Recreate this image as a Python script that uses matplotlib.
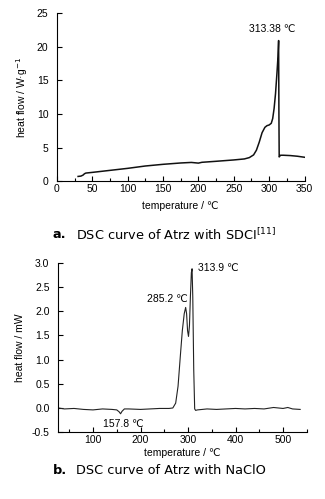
import matplotlib
matplotlib.use("Agg")
import matplotlib.pyplot as plt
from matplotlib.ticker import MultipleLocator, FormatStrFormatter

plt.rcParams["font.family"] = ["Liberation Sans", "DejaVu Sans"]
plt.rcParams["axes.unicode_minus"] = False
plt.rcParams["mathtext.fontset"] = "custom"
plt.rcParams["mathtext.rm"] = "DejaVu Sans"
plt.rcParams["mathtext.it"] = "DejaVu Sans"

# (a) DSC of Atrz with SDCI, heat flow W/g
temp_a = [30, 34, 37, 39, 41, 50, 75, 100, 125, 150, 175, 190, 200, 205, 225, 250,
          265, 272, 278, 282, 286, 290, 294, 297, 300, 303, 305, 307, 309, 311,
          312.5, 313.38, 313.8, 314.2, 316, 320, 330, 340, 350]
flow_a = [0.7, 0.75, 0.9, 1.1, 1.2, 1.3, 1.6, 1.9, 2.25, 2.5, 2.7, 2.78, 2.68, 2.8, 2.95,
          3.15, 3.3, 3.5, 3.9, 4.6, 5.8, 7.2, 8.0, 8.25, 8.35, 8.6, 9.3, 10.8, 13.0, 16.0,
          18.5, 20.9, 10.0, 3.6, 3.85, 3.85, 3.8, 3.7, 3.55]

# (b) DSC of Atrz with NaClO, heat flow mW
temp_b = [27, 40, 60, 80, 100, 120, 140, 150, 155, 158, 161, 166, 175, 200, 220, 240,
          260, 268, 274, 279, 284, 288, 292, 295, 297, 299, 301, 303, 305, 307, 308.5,
          310, 312, 314, 316, 320, 340, 360, 380, 400, 420, 440, 460, 480, 500, 510,
          520, 536]
flow_b = [0.0, -0.02, -0.01, -0.03, -0.04, -0.02, -0.03, -0.04, -0.08, -0.12, -0.07,
          -0.02, -0.02, -0.03, -0.02, -0.01, -0.01, 0.0, 0.1, 0.45, 1.1, 1.6, 1.95, 2.08,
          1.95, 1.6, 1.48, 1.7, 2.3, 2.8, 2.88, 2.3, 0.8, -0.02, -0.05, -0.04, -0.02, -0.03,
          -0.02, -0.01, -0.02, -0.01, -0.02, 0.01, -0.01, 0.01, -0.02, -0.03]

fig = plt.figure(figsize=(3.25, 4.99), dpi=100)

ax1 = fig.add_axes([0.175, 0.637, 0.762, 0.337])
ax1.plot(temp_a, flow_a, color="#111111", lw=1.1)
ax1.set_xlim(0, 350)
ax1.set_ylim(0, 25)
ax1.xaxis.set_major_locator(MultipleLocator(50))
ax1.xaxis.set_minor_locator(MultipleLocator(25))
ax1.yaxis.set_major_locator(MultipleLocator(5))
ax1.set_xlabel("temperature / ℃", fontsize=7.5, labelpad=5)
ax1.set_ylabel("heat flow / W·g$^{-1}$", fontsize=7.5, labelpad=5)
ax1.text(304, 22.6, "313.38 ℃", fontsize=7.5, ha="center", va="center")

ax2 = fig.add_axes([0.178, 0.134, 0.766, 0.339])
ax2.plot(temp_b, flow_b, color="#222222", lw=0.8)
ax2.set_xlim(26, 550)
ax2.set_ylim(-0.5, 3.0)
ax2.xaxis.set_major_locator(MultipleLocator(100))
ax2.xaxis.set_minor_locator(MultipleLocator(50))
ax2.yaxis.set_major_locator(MultipleLocator(0.5))
ax2.yaxis.set_major_formatter(FormatStrFormatter("%.1f"))
ax2.set_xlabel("temperature / ℃", fontsize=7.5, labelpad=2)
ax2.set_ylabel("heat flow / mW", fontsize=7.5, labelpad=5)
ax2.text(322, 2.9, "313.9 ℃", fontsize=7.5, ha="left", va="center")
ax2.text(256, 2.25, "285.2 ℃", fontsize=7.5, ha="center", va="center")
ax2.text(164, -0.33, "157.8 ℃", fontsize=7.5, ha="center", va="center")

for ax in (ax1, ax2):
    ax.spines["top"].set_visible(False)
    ax.spines["right"].set_visible(False)
    ax.tick_params(which="both", direction="in", labelsize=7.5, width=0.8)
    ax.tick_params(which="major", length=3.5)
    ax.tick_params(which="minor", length=2)
    ax.tick_params(axis="x", pad=2)
    ax.tick_params(axis="y", pad=6)

# captions
fig.text(0.163, 1 - 235 / 499, "a.", fontsize=9.3, fontweight="bold", family="DejaVu Sans",
         va="center")
fig.text(0.235, 1 - 235 / 499, "DSC curve of Atrz with SDCI$^{[11]}$", fontsize=9.3,
         family="DejaVu Sans", va="center")
fig.text(0.163, 1 - 470 / 499, "b.", fontsize=9.3, fontweight="bold", family="DejaVu Sans",
         va="center")
fig.text(0.235, 1 - 470 / 499, "DSC curve of Atrz with NaClO", fontsize=9.3,
         family="DejaVu Sans", va="center")

fig.savefig("out.png", dpi=100)
